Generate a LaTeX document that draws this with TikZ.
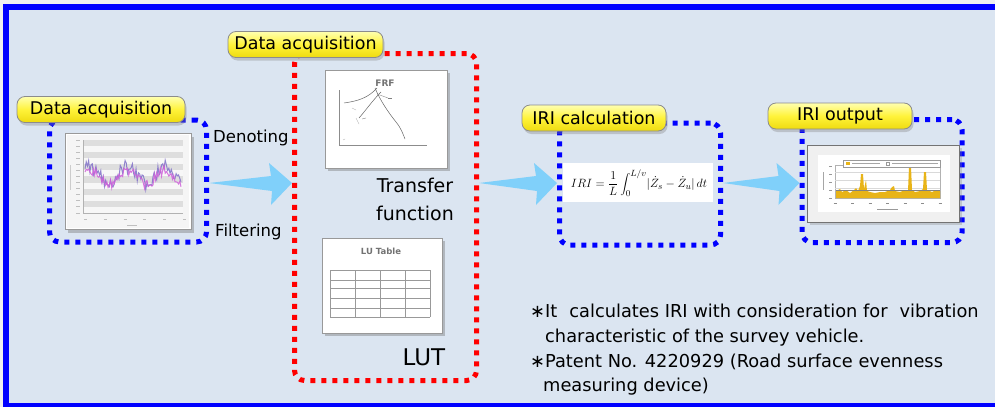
\documentclass[tikz,border=0pt]{standalone}
\usepackage{fontspec}
\setmainfont{DejaVu Sans}
\usetikzlibrary{shadows,calc}
\definecolor{bgc}{HTML}{DBE5F1}
\definecolor{outc}{HTML}{EFEFF1}
\definecolor{frameblue}{HTML}{0000FF}
\definecolor{arrc}{HTML}{80D0FA}
\definecolor{dred}{HTML}{FF0000}
\definecolor{ylwtop}{HTML}{FFFFB0}
\definecolor{ylwmid}{HTML}{FFF33A}
\definecolor{ylwbot}{HTML}{EEDB10}
\definecolor{plotpurple}{HTML}{8070C8}
\definecolor{plotpink}{HTML}{D060DA}
\definecolor{bargold}{HTML}{E8B418}
\tikzset{
  dotbox/.style={draw, line width=5pt, dash pattern=on 5pt off 6pt, rounded corners=10pt, inner sep=0pt},
  callout/.style={draw=black!45, line width=0.8pt, rounded corners=8pt, top color=ylwtop, bottom color=ylwbot, middle color=ylwmid,
     drop shadow={shadow xshift=1.5pt, shadow yshift=-3pt, opacity=0.35}, inner sep=0pt, minimum height=26pt,
     font=\fontsize{17.5}{20}\selectfont},
  picbox/.style={draw=black!40, line width=1pt, fill=white, inner sep=0pt,
     drop shadow={shadow xshift=3pt, shadow yshift=-3pt, opacity=0.45}},
  lbl/.style={inner sep=0pt, anchor=base west},
  note/.style={inner sep=0pt, anchor=base west, font=\fontsize{17.8}{20}\selectfont},
}
\newcommand\fatarrow[2]{%
  \fill[arrc] let \p1=(#1), \p2=(#2) in
   (\x1,\y2) -- (\x2-21pt,\y2+7pt) -- (\x2-23pt,\y2+20pt) -- (\x2,\y2)
   -- (\x2-21pt,\y2-22pt) -- (\x2-20pt,\y2-8pt) -- cycle;}
\begin{document}
\begin{tikzpicture}[x=1pt,y=-1pt]
\useasboundingbox (0,0) rectangle (995,407);
\fill[outc] (0,0) rectangle (995,407);
\fill[frameblue] (3,4) rectangle (995,407);
\fill[bgc] (9,10) rectangle (995,403);

% dotted frames
\node[dotbox, draw=frameblue, minimum width=157pt, minimum height=122pt] (b1) at (128,181) {};
\node[dotbox, draw=dred, minimum width=182pt, minimum height=327pt] (red) at (385.5,217) {};
\node[dotbox, draw=frameblue, minimum width=161pt, minimum height=122pt] (b2) at (640,184) {};
\node[dotbox, draw=frameblue, minimum width=160pt, minimum height=123pt] (b3) at (882,181) {};

% arrows
\coordinate (row) at (0,183);
\fatarrow{b1.east}{red.west|-row}
\fatarrow{red.east}{b2.west|-row}
\fatarrow{b2.east}{b3.west|-row}

% callouts
\node[callout, minimum width=168pt] (c1) at (101,109.5) {Data acquisition};
\node[callout, minimum width=155pt] (c2) at (305.5,44.5) {Data acquisition};
\node[callout, minimum width=144pt] (c3) at (594,118) {IRI calculation};
\node[callout, minimum width=144pt] (c4) at (840,116) {IRI output};

% left chart image
\node[picbox, minimum width=126pt, minimum height=96pt] (img1) at (128,181.5) {};
\fill[black!4] (67,135) rectangle (189,228);
\fill[black!3] (83,140) rectangle (183,213);
\foreach \i in {0,2,...,10} \fill[black!13] (83,{140+\i*6.08}) rectangle (183,{140+(\i+1)*6.08});
\draw[black!30, line width=0.4pt] (83,140) -- (83,213) -- (183,213);
\foreach \i in {0,...,12} \draw[black!25, line width=0.8pt] (76,{140+\i*6.08}) -- (80,{140+\i*6.08});
\foreach \i in {0,...,5} \draw[black!25, line width=0.8pt] ({84+\i*19.8},219) -- ({87+\i*19.8},219);
\draw[black!25, line width=0.8pt] (127,225) -- (137,225);
\draw[black!20, line width=0.8pt] (70,165) -- (70,190);
\pgfmathsetseed{5}
\draw[plotpurple, line width=1pt, opacity=0.85] plot[domain=85:181, samples=80] (\x,{175-8*sin(9.5*(\x-80))+7*rand});
\draw[plotpink, line width=1pt, opacity=0.85] plot[domain=85:181, samples=80] (\x,{177-7*sin(9.5*(\x-80))+5*rand});

% FRF image
\node[picbox, minimum width=122pt, minimum height=98pt] (img2) at (386,119) {};
\node[inner sep=0pt, text=black!55, font=\fontsize{9}{9}\selectfont\bfseries] (frf) at (385,83) {FRF};
\draw[black!45, line width=0.6pt] (339,90) -- (339,145) -- (427,145);
\draw[black!60, line width=0.5pt] (344,103) .. controls (358,101) and (368,98) .. (377,88);
\draw[black!60, line width=0.5pt] (375,88) .. controls (380,100) and (388,112) .. (396,122) .. controls (401,128) and (403,134) .. (405,139);
\draw[black!60, line width=0.5pt] (359,118) .. controls (366,110) and (373,100) .. (381,92);
\draw[black!45, line width=0.4pt] (377,94) -- (388,98);
\draw[black!50, line width=0.8pt] (388,98) -- (392,98);
\draw[black!45, line width=0.4pt] (366,118) -- (362,119);
\draw[black!30, line width=0.4pt] (352,108) -- (356,110) (356,118) -- (359,124) (343,140) -- (345,139);

% LU table image
\node[picbox, minimum width=120pt, minimum height=95pt] (img3) at (382,285.5) {};
\node[inner sep=0pt, text=black!55, font=\fontsize{8.5}{9}\selectfont\bfseries] (lut1) at (381,251) {LU Table};
\foreach \y in {270,280,288,298,308,317} \draw[black!40, line width=1pt] (330,\y) -- (430,\y);
\foreach \x in {330,355,380,405,430} \draw[black!40, line width=1pt] (\x,270) -- (\x,317);

% IRI formula
\node[fill=white, inner sep=0pt, minimum width=150pt, minimum height=39pt] (fbox) at (638,182) {};
\node[inner sep=0pt, font=\fontsize{12.6}{15}\selectfont] (formula) at (639,183) {$\displaystyle IRI=\frac{1}{L}\int_0^{L/v}\bigl|\dot{Z}_s-\dot{Z}_u\bigr|\,dt$};

% output chart image
\node[draw=black!55, line width=1.5pt, fill=black!6, inner sep=0pt, minimum width=152pt, minimum height=77pt,
      drop shadow={shadow xshift=2pt, shadow yshift=-2pt, opacity=0.3}] (img4) at (883.5,184) {};
\fill[white] (818,155) rectangle (950,212);
\draw[black!30, line width=0.4pt, fill=white] (835,165) rectangle (940,198);
\foreach \y in {172,180,188} \draw[black!15, line width=0.3pt] (835,\y) -- (940,\y);
\fill[bargold] (836,198) -- (836,191) -- (840,189) -- (842,192) -- (846,190) -- (850,193) -- (854,190) -- (856,188)
 -- (858,191) -- (860,186) -- (861,174) -- (863,174) -- (864,189) -- (866,180) -- (867,191) -- (870,192) -- (875,193)
 -- (880,192) -- (885,192) -- (890,190) -- (892,187) -- (894,186) -- (895,191) -- (900,192) -- (905,190) -- (908,191)
 -- (909,167) -- (911,167) -- (912,190) -- (915,192) -- (920,191) -- (923,189) -- (924,172) -- (926,172) -- (927,190)
 -- (932,192) -- (936,190) -- (940,191) -- (940,198) -- cycle;
\draw[black!50, line width=0.4pt] (836,190) -- (940,190);
\draw[black!40, line width=0.4pt, fill=white] (843,160) rectangle (940,167);
\fill[bargold] (846,162) rectangle (850,165);
\draw[black!35, line width=0.6pt] (852,163.5) -- (880,163.5) (892,163.5) -- (938,163.5);
\draw[black!40, line width=0.4pt] (886,162) rectangle (889,165);
\foreach \i in {0,...,6} \draw[black!45, line width=0.7pt] ({835+\i*17.5-1.5},203.5) -- ({835+\i*17.5+1.5},203.5);
\draw[black!40, line width=0.7pt] (877,209) -- (898,209);
\foreach \i in {0,...,4} \draw[black!40, line width=0.7pt] (829,{166+\i*8}) -- (832,{166+\i*8});
\draw[black!35, line width=0.7pt] (823,172) -- (823,190);

% texts
\node[lbl, font=\fontsize{16.5}{20}\selectfont] (den) at (213,142) {Denoting};
\node[lbl, font=\fontsize{16.5}{20}\selectfont] (fil) at (215,236) {Filtering};
\node[inner sep=0pt, align=center, font=\fontsize{19}{28}\selectfont] (tf) at (415,199) {Transfer\\function};
\node[inner sep=0pt, anchor=base, font=\fontsize{23}{23}\selectfont] (lut) at (424,365) {LUT};

\node[note] (n1) at (530,317) {∗It\hspace{12pt}calculates IRI with consideration for\hspace{12pt}vibration};
\node[note] (n2) at (545,342) {characteristic of the survey vehicle.};
\node[note] (n3) at (530,367) {∗Patent No. 4220929 (Road surface evenness};
\node[note] (n4) at (543,391) {measuring device)};
\end{tikzpicture}
\end{document}
